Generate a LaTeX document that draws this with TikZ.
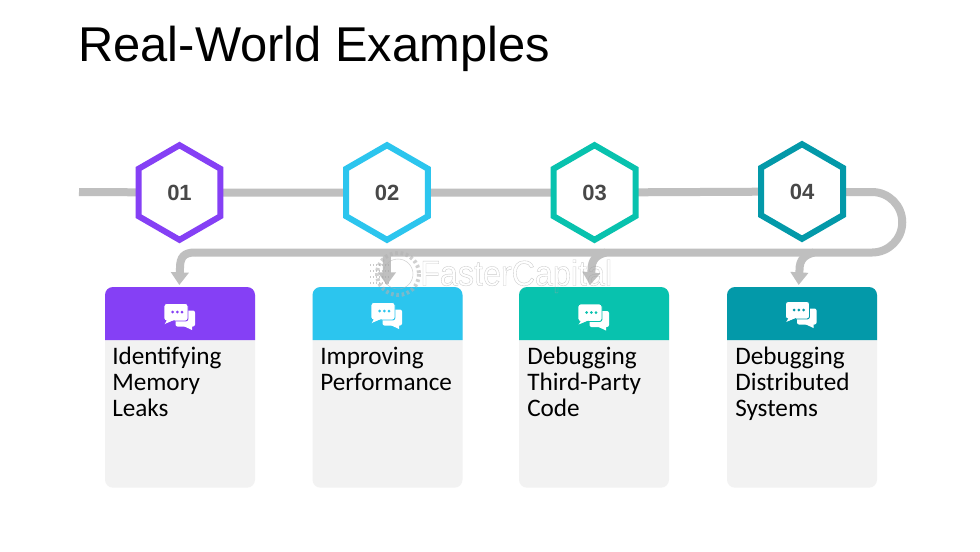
\documentclass[tikz,border=0pt]{standalone}
\usepackage{fontspec}
\setmainfont{Liberation Sans}
\newfontfamily\cardfont{Carlito}
\usetikzlibrary{shapes.geometric,arrows.meta,backgrounds}
\definecolor{cA}{HTML}{8540F5}
\definecolor{cB}{HTML}{2CC5EE}
\definecolor{cC}{HTML}{08C2AE}
\definecolor{cD}{HTML}{0399A9}
\definecolor{track}{HTML}{BFBFBF}
\definecolor{cardbg}{HTML}{F2F2F2}
\definecolor{numtxt}{HTML}{484848}
\newcommand{\chaticon}[3]{%
  \begin{scope}[shift={(#1,#2)}]
    \fill[white,rounded corners=1.5pt] (-4,-5.5) rectangle (15.5,10.5);
    \fill[white] (4,10) -- (12.5,14) -- (12.5,10) -- cycle;
    \filldraw[white,draw=#3,line width=0.7pt,rounded corners=1.8pt] (-15.5,-12.5) rectangle (8.5,5);
    \fill[white] (-12.5,4) -- (-15,8.5) -- (-5,4) -- cycle;
    \draw[#3,line width=0.7pt] (-15,8.7) -- (-5,4.6);
    \fill[#3] (-6.8,-4) circle (1.5) (-2.2,-4) circle (1.5) (2.5,-4) circle (1.5);
  \end{scope}}
\tikzset{
  x=0.75pt,y=-0.75pt,
  hexa/.style={regular polygon,regular polygon sides=6,shape border rotate=30,draw=#1,fill=white,line width=4.5pt,
    minimum size=71pt,inner sep=0pt,outer sep=0pt,text=numtxt,
    font=\fontsize{16.5pt}{18pt}\selectfont\bfseries},
  trackline/.style={draw=track,line width=6pt},
  arrowline/.style={trackline,-{Triangle[width=13pt,length=9.5pt]}},
  card/.style={draw=none,fill=cardbg,rounded corners=6pt,minimum width=112.5pt,minimum height=150.5pt,
    inner sep=0pt,outer sep=0pt,anchor=north west},
  cardtext/.style={anchor=north west,align=left,inner sep=0pt,
    font=\cardfont\fontsize{18.9pt}{19.5pt}\selectfont},
}
\begin{document}
\begin{tikzpicture}
\useasboundingbox (0,0) rectangle (980,551);
\node[anchor=base west,inner sep=0pt,font=\fontsize{36.65pt}{40pt}\selectfont] (title) at (78,61) {Real-World Examples};

\coordinate (start) at (79,192);
\coordinate (bend1) at (872,192);
\coordinate (bend2) at (872,252.5);
\coordinate (turn) at (195,252.5);

\node[hexa=cA] (h1) at (179.5,192.5) {01};
\node[hexa=cB] (h2) at (387,192.5) {02};
\node[hexa=cC] (h3) at (594.5,192.5) {03};
\node[hexa=cD] (h4) at (802,191.5) {04};

\node[card] (c1) at (105,287) {};
\node[card] (c2) at (312.5,287) {};
\node[card] (c3) at (519,287) {};
\node[card] (c4) at (727,287) {};

\foreach \n/\col in {c1/cA,c2/cB,c3/cC,c4/cD}{
  \fill[\col,rounded corners=6pt] (\n.south west |- 0,340) -- (\n.north west) -- (\n.north east) [sharp corners] -- (\n.south east |- 0,340) -- cycle;
}

\chaticon{179.5}{316}{cA}
\chaticon{386.5}{315}{cB}
\chaticon{593.5}{316.5}{cC}
\chaticon{801}{314}{cD}

\node[cardtext] (t1) at (112,346.5) {Identifying\\Memory\\Leaks};
\node[cardtext] (t2) at (320,346.5) {Improving\\Performance};
\node[cardtext] (t3) at (527,346.5) {Debugging\\Third-Party\\Code};
\node[cardtext] (t4) at (735,346.5) {Debugging\\Distributed\\Systems};

\begin{pgfonlayer}{background}
\fill[white] (0,0) rectangle (980,551);
\path[trackline] (start) -- (h1.center) -- (h2.center) -- (h3.center) -- (h4.center);
\path[trackline] (h4.center |- bend1) -- (bend1) arc[start angle=-90,end angle=90,radius=30.25,y=-0.75pt,x=0.75pt] -- (turn);
\path[arrowline] (turn) .. controls (184,252.5) and (180,257) .. (180,268) -- ([xshift=-0.5,yshift=1.5]c1.north);
\path[arrowline] (387,252.5) -- ([xshift=-0.5,yshift=1.5]c2.north);
\path[arrowline] (606,252.5) .. controls (596,255) and (591.5,260) .. (591.5,270) -- ([xshift=-3,yshift=1.5]c3.north);
\path[arrowline] (814,252.5) .. controls (804,255) and (799.5,260) .. (799.5,270) -- ([xshift=-2.5,yshift=1.5]c4.north);
\end{pgfonlayer}

% watermark
\begin{scope}[opacity=0.6]
  \draw[gray!60,line width=0.4pt] (398,274) circle (15);
  \draw[gray!60,line width=3pt,dash pattern=on 2pt off 2pt] (398,274) circle (21);
  \foreach \yy in {265,271,277,283}{
    \draw[gray!70,line width=0.8pt,dash pattern=on 1pt off 1.2pt] (370,\yy) -- (390,\yy);
  }
  \node[anchor=base west,inner sep=0pt,text=gray!70,font=\fontsize{24.2pt}{28pt}\selectfont,yscale=1.1] (mark) at (420,285.5) {\special{pdf:code 1 Tr 0.25 w}FasterCapital\special{pdf:code 0 Tr}};
\end{scope}
\end{tikzpicture}
\end{document}
